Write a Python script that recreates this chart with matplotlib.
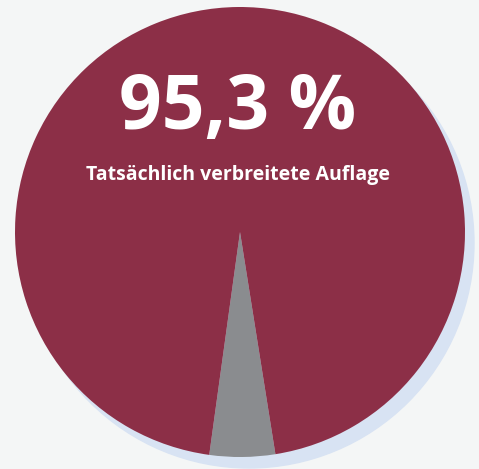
import matplotlib.pyplot as plt
from matplotlib.patches import Circle

# share of the circulation
labels = ['Nicht verbreitet', 'Tatsächlich verbreitete Auflage']
values = [4.7, 95.3]
colors = ['#8a8c8f', '#8c2f47']
headline = '95,3 %'
subtitle = 'Tatsächlich verbreitete Auflage'

bg = '#f4f6f6'
W, H = 479, 469

fig = plt.figure(figsize=(W / 100, H / 100), dpi=100, facecolor=bg)
ax = fig.add_axes([0, 0, 1, 1])
ax.set_facecolor(bg)

cx, cy, r = 240, H - 232, 225

# soft shadow behind the pie
ax.add_patch(Circle((cx + 9, cy - 11), r, color='#d8e3f3', zorder=0))

gray_span = values[0] / sum(values) * 360
ax.pie(values, colors=colors, center=(cx, cy), radius=r,
       startangle=270.6 - gray_span / 2, counterclock=True,
       wedgeprops=dict(linewidth=0), frame=True)
ax.set_xlim(0, W)
ax.set_ylim(0, H)
ax.set_aspect('equal')
ax.axis('off')

ax.text(238, H - 100, headline, color='white', fontsize=54, fontweight='bold',
        family='Open Sans', ha='center', va='center_baseline')
ax.text(238, H - 175, subtitle, color='white', fontsize=14, fontweight='bold',
        family='Open Sans', ha='center', va='center')

fig.savefig('out.png', dpi=100, facecolor=bg)
